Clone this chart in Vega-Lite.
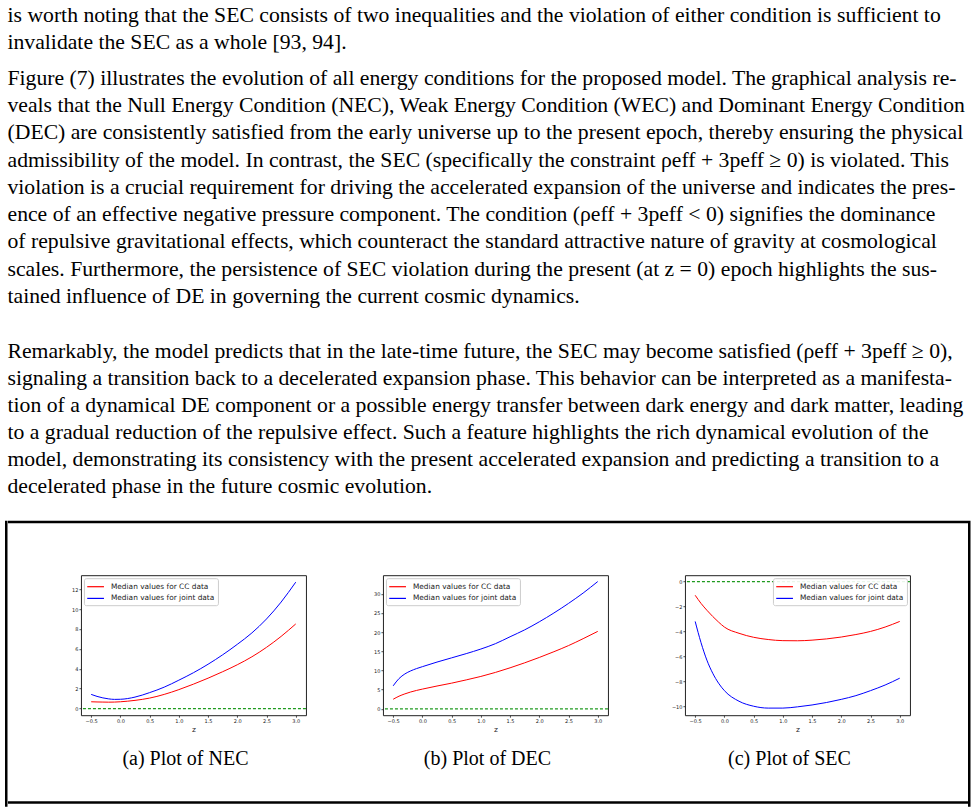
{
  "$schema": "https://vega.github.io/schema/vega-lite/v6.json",
  "background": "white",
  "padding": {"top": 1, "left": 5, "right": 0, "bottom": 0},
  "spacing": 20.7,
  "datasets": {
    "p1": [
      {"line": 1, "text": "is worth noting that the SEC consists of two inequalities and the violation of either condition is sufficient to"},
      {"line": 2, "text": "invalidate the SEC as a whole [93, 94]."}
    ],
    "p2": [
      {"line": 1, "text": "Figure (7) illustrates the evolution of all energy conditions for the proposed model. The graphical analysis re-"},
      {"line": 2, "text": "veals that the Null Energy Condition (NEC), Weak Energy Condition (WEC) and Dominant Energy Condition"},
      {"line": 3, "text": "(DEC) are consistently satisfied from the early universe up to the present epoch, thereby ensuring the physical"},
      {"line": 4, "text": "admissibility of the model. In contrast, the SEC (specifically the constraint ρeff + 3peff ≥ 0) is violated. This"},
      {"line": 5, "text": "violation is a crucial requirement for driving the accelerated expansion of the universe and indicates the pres-"},
      {"line": 6, "text": "ence of an effective negative pressure component. The condition (ρeff + 3peff < 0) signifies the dominance"},
      {"line": 7, "text": "of repulsive gravitational effects, which counteract the standard attractive nature of gravity at cosmological"},
      {"line": 8, "text": "scales. Furthermore, the persistence of SEC violation during the present (at z = 0) epoch highlights the sus-"},
      {"line": 9, "text": "tained influence of DE in governing the current cosmic dynamics."}
    ],
    "p3": [
      {"line": 1, "text": "Remarkably, the model predicts that in the late-time future, the SEC may become satisfied (ρeff + 3peff ≥ 0),"},
      {"line": 2, "text": "signaling a transition back to a decelerated expansion phase. This behavior can be interpreted as a manifesta-"},
      {"line": 3, "text": "tion of a dynamical DE component or a possible energy transfer between dark energy and dark matter, leading"},
      {"line": 4, "text": "to a gradual reduction of the repulsive effect. Such a feature highlights the rich dynamical evolution of the"},
      {"line": 5, "text": "model, demonstrating its consistency with the present accelerated expansion and predicting a transition to a"},
      {"line": 6, "text": "decelerated phase in the future cosmic evolution."}
    ],
    "nec": [
      {"z": -0.5, "series": "Median values for CC data", "value": 0.68},
      {"z": -0.4, "series": "Median values for CC data", "value": 0.66},
      {"z": -0.3, "series": "Median values for CC data", "value": 0.65},
      {"z": -0.2, "series": "Median values for CC data", "value": 0.64},
      {"z": -0.1, "series": "Median values for CC data", "value": 0.65},
      {"z": 0.0, "series": "Median values for CC data", "value": 0.68},
      {"z": 0.25, "series": "Median values for CC data", "value": 0.82},
      {"z": 0.5, "series": "Median values for CC data", "value": 1.05},
      {"z": 0.75, "series": "Median values for CC data", "value": 1.42},
      {"z": 1.0, "series": "Median values for CC data", "value": 1.9},
      {"z": 1.25, "series": "Median values for CC data", "value": 2.45},
      {"z": 1.5, "series": "Median values for CC data", "value": 3.05},
      {"z": 1.75, "series": "Median values for CC data", "value": 3.7},
      {"z": 2.0, "series": "Median values for CC data", "value": 4.4},
      {"z": 2.25, "series": "Median values for CC data", "value": 5.2},
      {"z": 2.5, "series": "Median values for CC data", "value": 6.15},
      {"z": 2.75, "series": "Median values for CC data", "value": 7.25},
      {"z": 3.0, "series": "Median values for CC data", "value": 8.5},
      {"z": -0.5, "series": "Median values for joint data", "value": 1.42},
      {"z": -0.4, "series": "Median values for joint data", "value": 1.22},
      {"z": -0.3, "series": "Median values for joint data", "value": 1.07},
      {"z": -0.2, "series": "Median values for joint data", "value": 0.97},
      {"z": -0.1, "series": "Median values for joint data", "value": 0.92},
      {"z": 0.0, "series": "Median values for joint data", "value": 0.93},
      {"z": 0.25, "series": "Median values for joint data", "value": 1.15},
      {"z": 0.5, "series": "Median values for joint data", "value": 1.6},
      {"z": 0.75, "series": "Median values for joint data", "value": 2.15},
      {"z": 1.0, "series": "Median values for joint data", "value": 2.85},
      {"z": 1.25, "series": "Median values for joint data", "value": 3.6},
      {"z": 1.5, "series": "Median values for joint data", "value": 4.45},
      {"z": 1.75, "series": "Median values for joint data", "value": 5.4},
      {"z": 2.0, "series": "Median values for joint data", "value": 6.45},
      {"z": 2.25, "series": "Median values for joint data", "value": 7.6},
      {"z": 2.5, "series": "Median values for joint data", "value": 9.0},
      {"z": 2.75, "series": "Median values for joint data", "value": 10.7},
      {"z": 3.0, "series": "Median values for joint data", "value": 12.7}
    ],
    "dec": [
      {"z": -0.5, "series": "Median values for CC data", "value": 2.5},
      {"z": -0.4, "series": "Median values for CC data", "value": 3.3},
      {"z": -0.3, "series": "Median values for CC data", "value": 3.9},
      {"z": -0.2, "series": "Median values for CC data", "value": 4.4},
      {"z": -0.1, "series": "Median values for CC data", "value": 4.8},
      {"z": 0.0, "series": "Median values for CC data", "value": 5.15},
      {"z": 0.25, "series": "Median values for CC data", "value": 5.95},
      {"z": 0.5, "series": "Median values for CC data", "value": 6.7},
      {"z": 0.75, "series": "Median values for CC data", "value": 7.55},
      {"z": 1.0, "series": "Median values for CC data", "value": 8.45},
      {"z": 1.25, "series": "Median values for CC data", "value": 9.5},
      {"z": 1.5, "series": "Median values for CC data", "value": 10.7},
      {"z": 1.75, "series": "Median values for CC data", "value": 12.0},
      {"z": 2.0, "series": "Median values for CC data", "value": 13.4},
      {"z": 2.25, "series": "Median values for CC data", "value": 14.9},
      {"z": 2.5, "series": "Median values for CC data", "value": 16.5},
      {"z": 2.75, "series": "Median values for CC data", "value": 18.3},
      {"z": 3.0, "series": "Median values for CC data", "value": 20.2},
      {"z": -0.5, "series": "Median values for joint data", "value": 6.0},
      {"z": -0.4, "series": "Median values for joint data", "value": 7.9},
      {"z": -0.3, "series": "Median values for joint data", "value": 9.1},
      {"z": -0.2, "series": "Median values for joint data", "value": 9.9},
      {"z": -0.1, "series": "Median values for joint data", "value": 10.5},
      {"z": 0.0, "series": "Median values for joint data", "value": 11.0},
      {"z": 0.25, "series": "Median values for joint data", "value": 12.2},
      {"z": 0.5, "series": "Median values for joint data", "value": 13.3},
      {"z": 0.75, "series": "Median values for joint data", "value": 14.4},
      {"z": 1.0, "series": "Median values for joint data", "value": 15.6},
      {"z": 1.25, "series": "Median values for joint data", "value": 17.0},
      {"z": 1.5, "series": "Median values for joint data", "value": 18.8},
      {"z": 1.75, "series": "Median values for joint data", "value": 20.6},
      {"z": 2.0, "series": "Median values for joint data", "value": 22.7},
      {"z": 2.25, "series": "Median values for joint data", "value": 25.0},
      {"z": 2.5, "series": "Median values for joint data", "value": 27.5},
      {"z": 2.75, "series": "Median values for joint data", "value": 30.2},
      {"z": 3.0, "series": "Median values for joint data", "value": 33.2}
    ],
    "sec": [
      {"z": -0.5, "series": "Median values for CC data", "value": -1.1},
      {"z": -0.4, "series": "Median values for CC data", "value": -1.75},
      {"z": -0.3, "series": "Median values for CC data", "value": -2.3},
      {"z": -0.2, "series": "Median values for CC data", "value": -2.8},
      {"z": -0.1, "series": "Median values for CC data", "value": -3.25},
      {"z": 0.0, "series": "Median values for CC data", "value": -3.65},
      {"z": 0.25, "series": "Median values for CC data", "value": -4.15},
      {"z": 0.5, "series": "Median values for CC data", "value": -4.47},
      {"z": 0.75, "series": "Median values for CC data", "value": -4.65},
      {"z": 1.0, "series": "Median values for CC data", "value": -4.74},
      {"z": 1.25, "series": "Median values for CC data", "value": -4.75},
      {"z": 1.5, "series": "Median values for CC data", "value": -4.7},
      {"z": 1.75, "series": "Median values for CC data", "value": -4.6},
      {"z": 2.0, "series": "Median values for CC data", "value": -4.45},
      {"z": 2.25, "series": "Median values for CC data", "value": -4.25},
      {"z": 2.5, "series": "Median values for CC data", "value": -4.0},
      {"z": 2.75, "series": "Median values for CC data", "value": -3.65},
      {"z": 3.0, "series": "Median values for CC data", "value": -3.2},
      {"z": -0.5, "series": "Median values for joint data", "value": -3.2},
      {"z": -0.4, "series": "Median values for joint data", "value": -4.9},
      {"z": -0.3, "series": "Median values for joint data", "value": -6.3},
      {"z": -0.2, "series": "Median values for joint data", "value": -7.35},
      {"z": -0.1, "series": "Median values for joint data", "value": -8.15},
      {"z": 0.0, "series": "Median values for joint data", "value": -8.75},
      {"z": 0.25, "series": "Median values for joint data", "value": -9.6},
      {"z": 0.5, "series": "Median values for joint data", "value": -10.0},
      {"z": 0.75, "series": "Median values for joint data", "value": -10.15},
      {"z": 1.0, "series": "Median values for joint data", "value": -10.15},
      {"z": 1.25, "series": "Median values for joint data", "value": -10.05},
      {"z": 1.5, "series": "Median values for joint data", "value": -9.9},
      {"z": 1.75, "series": "Median values for joint data", "value": -9.7},
      {"z": 2.0, "series": "Median values for joint data", "value": -9.45},
      {"z": 2.25, "series": "Median values for joint data", "value": -9.15},
      {"z": 2.5, "series": "Median values for joint data", "value": -8.75},
      {"z": 2.75, "series": "Median values for joint data", "value": -8.3},
      {"z": 3.0, "series": "Median values for joint data", "value": -7.75}
    ]
  },
  "vconcat": [
    {
      "spacing": 27.6,
      "vconcat": [
        {
          "spacing": 9,
          "vconcat": [
            {
              "data": {"name": "p1"},
              "width": 963,
              "height": {"step": 27},
              "view": {"stroke": null},
              "mark": {"type": "text", "align": "left", "baseline": "middle", "dx": 1.5, "font": "Liberation Serif", "fontSize": 21.7, "color": "black"},
              "encoding": {
                "y": {"field": "line", "type": "ordinal", "axis": null},
                "x": {"datum": 0, "type": "quantitative", "axis": null, "scale": {"domain": [0, 1]}},
                "text": {"field": "text"}
              }
            },
            {
              "data": {"name": "p2"},
              "width": 963,
              "height": {"step": 27.3},
              "view": {"stroke": null},
              "mark": {"type": "text", "align": "left", "baseline": "middle", "dx": 1.5, "font": "Liberation Serif", "fontSize": 21.7, "color": "black"},
              "encoding": {
                "y": {"field": "line", "type": "ordinal", "axis": null},
                "x": {"datum": 0, "type": "quantitative", "axis": null, "scale": {"domain": [0, 1]}},
                "text": {"field": "text"}
              }
            }
          ]
        },
        {
          "data": {"name": "p3"},
          "width": 963,
          "height": {"step": 27},
          "view": {"stroke": null},
          "mark": {"type": "text", "align": "left", "baseline": "middle", "dx": 1.5, "font": "Liberation Serif", "fontSize": 21.7, "color": "black"},
          "encoding": {
            "y": {"field": "line", "type": "ordinal", "axis": null},
            "x": {"datum": 0, "type": "quantitative", "axis": null, "scale": {"domain": [0, 1]}},
            "text": {"field": "text"}
          }
        }
      ]
    },
    {
      "spacing": 0,
      "hconcat": [
        {
          "width": 0.5,
          "height": 284,
          "data": {"values": []},
          "mark": "point",
          "encoding": {},
          "view": {"stroke": "black", "strokeWidth": 2}
        },
        {
          "spacing": 50.5,
          "center": true,
          "vconcat": [
            {
              "width": 958,
              "height": 0.5,
              "data": {"values": []},
              "mark": "point",
              "encoding": {},
              "view": {"stroke": "black", "strokeWidth": 2}
            },
            {
              "spacing": 32,
              "center": true,
              "vconcat": [
                {
                  "spacing": 2,
                  "hconcat": [
                    {
                      "width": 2.5,
                      "height": 1,
                      "data": {"values": []},
                      "mark": "point",
                      "encoding": {},
                      "view": {"stroke": null, "fill": "white"}
                    },
                    {
                      "spacing": 77,
                      "bounds": "flush",
                      "resolve": {"scale": {"x": "independent", "y": "independent"}, "legend": {"color": "independent"}},
                      "hconcat": [
                        {
                          "width": 225,
                          "height": 140,
                          "title": {"text": "(a) Plot of NEC"},
                          "layer": [
                            {
                              "data": {"name": "nec"},
                              "mark": {"type": "line", "interpolate": "monotone", "strokeWidth": 1},
                              "encoding": {
                                "x": {"field": "z", "type": "quantitative", "title": "z", "scale": {"domain": [-0.675, 3.175], "nice": false, "zero": false}, "axis": {"values": [-0.5, 0, 0.5, 1, 1.5, 2, 2.5, 3], "format": ".1f", "tickCount": 20, "labelOverlap": false}},
                                "y": {"field": "value", "type": "quantitative", "title": null, "scale": {"domain": [-0.67, 13.4], "nice": false, "zero": false}, "axis": {"values": [0, 2, 4, 6, 8, 10, 12], "format": "d", "tickCount": 20, "labelOverlap": false}},
                                "color": {"field": "series", "type": "nominal", "scale": {"domain": ["Median values for CC data", "Median values for joint data"], "range": ["#ff0000", "#0000ff"]}, "legend": {"title": null, "orient": "top-left"}}
                              }
                            },
                            {
                              "data": {"values": [{"value": 0}]},
                              "mark": {"type": "rule", "color": "#1f9a1f", "strokeDash": [3, 2], "strokeWidth": 1.2},
                              "encoding": {"y": {"field": "value", "type": "quantitative", "title": null}}
                            }
                          ]
                        },
                        {
                          "width": 225,
                          "height": 140,
                          "title": {"text": "(b) Plot of DEC"},
                          "layer": [
                            {
                              "data": {"name": "dec"},
                              "mark": {"type": "line", "interpolate": "monotone", "strokeWidth": 1},
                              "encoding": {
                                "x": {"field": "z", "type": "quantitative", "title": "z", "scale": {"domain": [-0.675, 3.175], "nice": false, "zero": false}, "axis": {"values": [-0.5, 0, 0.5, 1, 1.5, 2, 2.5, 3], "format": ".1f", "tickCount": 20, "labelOverlap": false}},
                                "y": {"field": "value", "type": "quantitative", "title": null, "scale": {"domain": [-1.66, 34.86], "nice": false, "zero": false}, "axis": {"values": [0, 5, 10, 15, 20, 25, 30], "format": "d", "tickCount": 20, "labelOverlap": false}},
                                "color": {"field": "series", "type": "nominal", "scale": {"domain": ["Median values for CC data", "Median values for joint data"], "range": ["#ff0000", "#0000ff"]}, "legend": {"title": null, "orient": "top-left"}}
                              }
                            },
                            {
                              "data": {"values": [{"value": 0}]},
                              "mark": {"type": "rule", "color": "#1f9a1f", "strokeDash": [3, 2], "strokeWidth": 1.2},
                              "encoding": {"y": {"field": "value", "type": "quantitative", "title": null}}
                            }
                          ]
                        },
                        {
                          "width": 225,
                          "height": 140,
                          "title": {"text": "(c) Plot of SEC"},
                          "layer": [
                            {
                              "data": {"name": "sec"},
                              "mark": {"type": "line", "interpolate": "monotone", "strokeWidth": 1},
                              "encoding": {
                                "x": {"field": "z", "type": "quantitative", "title": "z", "scale": {"domain": [-0.675, 3.175], "nice": false, "zero": false}, "axis": {"values": [-0.5, 0, 0.5, 1, 1.5, 2, 2.5, 3], "format": ".1f", "tickCount": 20, "labelOverlap": false}},
                                "y": {"field": "value", "type": "quantitative", "title": null, "scale": {"domain": [-10.72, 0.51], "nice": false, "zero": false}, "axis": {"values": [-10, -8, -6, -4, -2, 0], "format": "d", "tickCount": 20, "labelOverlap": false}},
                                "color": {"field": "series", "type": "nominal", "scale": {"domain": ["Median values for CC data", "Median values for joint data"], "range": ["#ff0000", "#0000ff"]}, "legend": {"title": null, "orient": "top-right"}}
                              }
                            },
                            {
                              "data": {"values": [{"value": 0}]},
                              "mark": {"type": "rule", "color": "#1f9a1f", "strokeDash": [3, 2], "strokeWidth": 1.2},
                              "encoding": {"y": {"field": "value", "type": "quantitative", "title": null}}
                            }
                          ]
                        }
                      ]
                    }
                  ]
                },
                {
                  "width": 958,
                  "height": 0.5,
                  "data": {"values": []},
                  "mark": "point",
                  "encoding": {},
                  "view": {"stroke": "black", "strokeWidth": 2}
                }
              ]
            }
          ]
        },
        {
          "width": 0.5,
          "height": 284,
          "data": {"values": []},
          "mark": "point",
          "encoding": {},
          "view": {"stroke": "black", "strokeWidth": 2}
        }
      ]
    }
  ],
  "config": {
    "font": "DejaVu Sans",
    "view": {"stroke": "#222222", "strokeWidth": 1},
    "axis": {
      "labelFont": "DejaVu Sans",
      "labelFontSize": 5,
      "labelColor": "#222222",
      "labelPadding": 1,
      "labelFlush": false,
      "labelOverlap": false,
      "tickCount": 20,
      "tickColor": "#222222",
      "tickSize": 2,
      "tickWidth": 0.8,
      "domain": false,
      "grid": false,
      "titleFont": "DejaVu Sans",
      "titleFontSize": 7.5,
      "titleFontWeight": "normal",
      "titleColor": "#222222",
      "titlePadding": 2
    },
    "legend": {
      "labelFont": "DejaVu Sans",
      "labelFontSize": 7.4,
      "labelColor": "#222222",
      "labelLimit": 300,
      "labelOffset": 13,
      "symbolType": "M-1.16,0H2.56",
      "symbolSize": 81,
      "symbolStrokeWidth": 1.2,
      "padding": 3,
      "rowPadding": 2.7,
      "offset": 3,
      "strokeColor": "#cccccc",
      "fillColor": "rgba(255,255,255,0.9)",
      "cornerRadius": 2
    },
    "title": {
      "orient": "bottom",
      "anchor": "middle",
      "frame": "group",
      "dx": -8,
      "offset": 16,
      "font": "Liberation Serif",
      "fontSize": 20,
      "fontWeight": "normal",
      "color": "black"
    }
  }
}
